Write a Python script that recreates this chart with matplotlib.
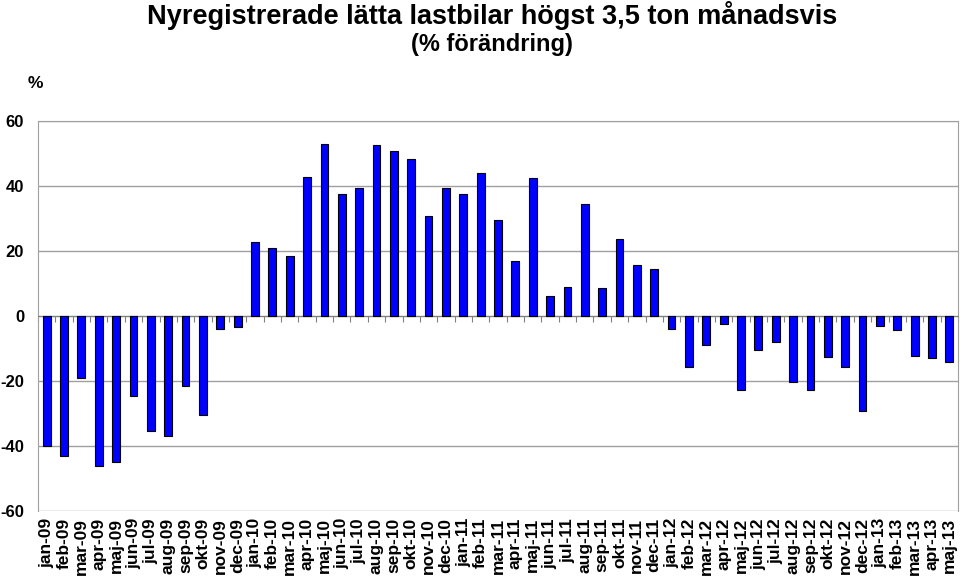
import numpy as np
import matplotlib
matplotlib.use("Agg")
import matplotlib.pyplot as plt
import matplotlib.transforms as mtransforms

plt.rcParams['font.family'] = ['Liberation Sans', 'DejaVu Sans']

# manader jan-09 .. maj-13
manader = ["jan", "feb", "mar", "apr", "maj", "jun", "jul", "aug", "sep", "okt", "nov", "dec"]
ar = ["09", "10", "11", "12", "13"]
etiketter = [f"{m}-{a}" for a in ar for m in manader][:53]

# % forandring per manad
v2009 = [-40, -43, -19, -46, -45, -24.5, -35.5, -37, -21.5, -30.5, -4, -3.5]
v2010 = [22.8, 21, 18.5, 42.8, 53, 37.5, 39.5, 52.5, 50.7, 48.3, 30.8, 39.3]
v2011 = [37.4, 44, 29.5, 17, 42.5, 6.3, 9, 34.4, 8.5, 23.7, 15.7, 14.5]
v2012 = [-3.9, -15.6, -9, -2.6, -22.8, -10.4, -7.9, -20.2, -22.9, -12.7, -15.7, -29.1]
v2013 = [-3.2, -4.3, -12.3, -12.9, -14.3]
varden = v2009 + v2010 + v2011 + v2012 + v2013

fig = plt.figure(figsize=(9.6, 5.76), dpi=100)
ax = fig.add_axes([38/960, 1-511/576, 920/960, 390/576])

x = np.arange(len(varden))
ax.bar(x, varden, width=0.45, color='#0000ff', edgecolor='black', linewidth=0.8, zorder=3)

ax.set_xlim(-0.5, len(varden) - 0.5)
ax.set_ylim(-60, 60)
ax.set_yticks([-60, -40, -20, 0, 20, 40, 60])
ax.set_yticklabels([str(t) for t in [-60, -40, -20, 0, 20, 40, 60]], fontsize=12, fontweight='bold')
ax.yaxis.grid(True, color='#a0a0a0', linewidth=1, zorder=0)
ax.tick_params(axis='y', length=0, pad=10)

# kategoriaxeln ligger pa noll
ax.spines['bottom'].set_position(('data', 0))
ax.spines['bottom'].set_color('#808080')
for s in ['left', 'right', 'top']:
    ax.spines[s].set_color('#a0a0a0')
ax.set_xticks(np.arange(len(varden) + 1) - 0.5)
ax.set_xticklabels([])
ax.tick_params(axis='x', direction='out', length=4, color='#808080')

trans = mtransforms.blended_transform_factory(ax.transData, ax.transAxes)
for i, lab in enumerate(etiketter):
    ax.text(i, -0.018, lab, transform=trans, rotation=90, ha='center', va='top',
            fontsize=12.5, fontweight='bold')

fig.text(492/960, 1-15/576, "Nyregistrerade lätta lastbilar högst 3,5 ton månadsvis",
         ha='center', va='center', fontsize=19.5, fontweight='bold')
fig.text(492/960, 1-45/576, "(% förändring)", ha='center', va='center',
         fontsize=17, fontweight='bold')
fig.text(35/960, 1-84/576, "%", ha='center', va='center', fontsize=12.5, fontweight='bold')

fig.savefig("out.png", dpi=100)
